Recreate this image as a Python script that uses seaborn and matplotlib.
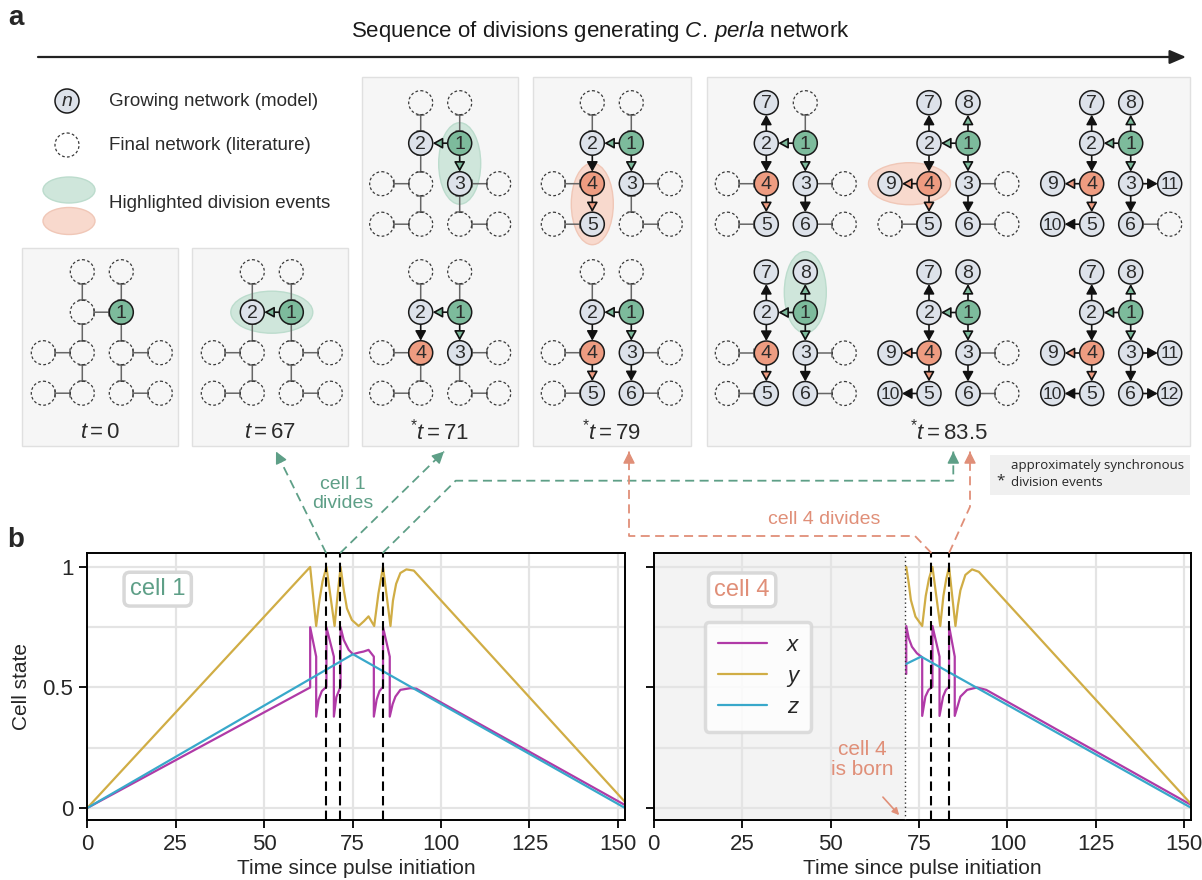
import matplotlib
matplotlib.use("Agg")
import matplotlib.pyplot as plt
import numpy as np
import pandas as pd
import seaborn as sns
from matplotlib.patches import Circle, Ellipse, Rectangle, FancyArrowPatch
from matplotlib.ticker import FixedLocator

# ------------------------------------------------------------------ data
series_names = ["x", "y", "z"]

# cell 1 traces (time, value)
cell1_x_t = [0, 63, 63, 64.7, 64.7, 65.4, 66.3, 67.6, 67.6, 69.7, 69.7, 70.4, 71.6, 71.6,
             72.5, 73.9, 75.1, 76.8, 78.1, 79.5, 81.0, 81.0, 81.8, 82.6, 83.6, 83.6, 85.5,
             85.5, 86.3, 87.1, 88.5, 91.3, 93.0, 152]
cell1_x = [0, 0.50, 0.75, 0.628, 0.379, 0.45, 0.485, 0.503, 0.75, 0.628, 0.379, 0.46, 0.503, 0.75,
           0.697, 0.656, 0.638, 0.645, 0.649, 0.656, 0.628, 0.379, 0.45, 0.485, 0.503, 0.75, 0.628,
           0.379, 0.43, 0.462, 0.49, 0.497, 0.495, 0.012]
cell1_y_t = [0, 63, 64.7, 65.6, 66.5, 67.6, 69.9, 70.8, 71.6, 72.5, 73.4, 74.8, 76.7, 78.2,
             79.5, 81.1, 82.3, 83.6, 85.7, 86.4, 87.3, 88.5, 90.2, 92.3, 152]
cell1_y = [0, 1.0, 0.755, 0.86, 0.94, 1.0, 0.755, 0.89, 1.0, 0.905, 0.828, 0.78, 0.755, 0.775,
           0.795, 0.755, 0.89, 1.0, 0.755, 0.86, 0.93, 0.975, 0.99, 0.985, 0.025]
cell1_z_t = [0, 75.1, 152]
cell1_z = [0, 0.638, 0.0]

# cell 4 traces (born at t = 71)
cell4_x_t = [71.4, 71.4, 72.1, 73.0, 74.4, 75.9, 75.9, 76.8, 77.7, 78.8, 78.8, 80.8, 80.8,
             81.8, 82.6, 83.5, 83.5, 85.1, 85.1, 86.7, 88.6, 91.4, 94.0, 152]
cell4_x = [0.556, 0.755, 0.704, 0.669, 0.642, 0.625, 0.382, 0.462, 0.49, 0.503, 0.755, 0.628, 0.382,
           0.462, 0.49, 0.503, 0.755, 0.628, 0.382, 0.462, 0.49, 0.50, 0.49, 0.012]
cell4_y_t = [71.4, 72.1, 72.7, 74.0, 75.9, 76.9, 77.8, 78.8, 81.0, 81.9, 82.7, 83.5, 85.3,
             86.0, 86.7, 88.1, 90.0, 91.9, 152]
cell4_y = [1.0, 0.932, 0.863, 0.794, 0.755, 0.88, 0.95, 1.0, 0.755, 0.88, 0.95, 1.0, 0.755,
           0.84, 0.903, 0.967, 0.99, 0.98, 0.015]
cell4_z_t = [71.4, 75.6, 152]
cell4_z = [0.598, 0.628, 0.0]

cell1_div_times = [67.5, 71.5, 83.5]
cell4_div_times = [78.5, 83.5]
cell4_birth_time = 71

x_ticks = [0, 25, 50, 75, 100, 125, 150]
y_ticks = [0, 0.5, 1]
y_tick_labels = ["0", "0.5", "1"]
y_minor_ticks = [0.25, 0.75]

snapshot_labels = [r"$t=0$", r"$t=67$", r"$^{*}t=71$", r"$^{*}t=79$", r"$^{*}t=83.5$"]
# number of cells in each drawn network
net_sizes = [1, 2, 3, 4, 5, 6, 7, 8, 9, 10, 11, 12]
# lineage (parent, daughter) in order of birth
lineage = [(1, 2), (1, 3), (2, 4), (4, 5), (3, 6), (2, 7), (1, 8), (4, 9), (5, 10), (3, 11), (6, 12)]
# slot (column, row) of each cell in the final network
cell_slot = {1: (2, 1), 2: (1, 1), 3: (2, 2), 4: (1, 2), 5: (1, 3), 6: (2, 3),
             7: (1, 0), 8: (2, 0), 9: (0, 2), 10: (0, 3), 11: (3, 2), 12: (3, 3)}

# ------------------------------------------------------------------ style
sns.set_style("ticks")
plt.rcParams["font.family"] = ["Liberation Sans", "DejaVu Sans"]
plt.rcParams["mathtext.fontset"] = "custom"
plt.rcParams["mathtext.rm"] = "Liberation Sans"
plt.rcParams["mathtext.it"] = "Liberation Sans:italic"
plt.rcParams["mathtext.bf"] = "Liberation Sans:bold"

PAL = {"x": "#b03aa7", "y": "#d0ad45", "z": "#38a8ca"}
GREEN = "#7dbb9c"
SALMON = "#ee9c81"
NODE_GRAY = "#dde2ea"
GREEN_TXT = "#5e9f87"
SALMON_TXT = "#e08f78"

W, H = 1202, 880
fig = plt.figure(figsize=(W / 100, H / 100), dpi=100)

ax1 = fig.add_axes([87.3 / W, 1 - 820 / H, 537.7 / W, 267 / H])
ax2 = fig.add_axes([653.7 / W, 1 - 820 / H, 537.7 / W, 267 / H])


def long_df(tx, x, ty, y, tz, z):
    return pd.concat([
        pd.DataFrame({"t": tx, "value": x, "var": "x"}),
        pd.DataFrame({"t": ty, "value": y, "var": "y"}),
        pd.DataFrame({"t": tz, "value": z, "var": "z"}),
    ], ignore_index=True)


def style_axes(ax, show_ylabels):
    ax.set_xlim(0, 152)
    ax.set_ylim(-0.05, 1.058)
    ax.set_xticks(x_ticks)
    ax.set_yticks(y_ticks)
    ax.set_yticklabels(y_tick_labels if show_ylabels else [])
    ax.yaxis.set_minor_locator(FixedLocator(y_minor_ticks))
    ax.set_axisbelow(True)
    ax.grid(True, which="major", color="#e4e4e4", lw=1.6)
    ax.grid(True, which="minor", axis="y", color="#e4e4e4", lw=1.6)
    ax.tick_params(which="major", direction="out", length=6, width=1.3, labelsize=16,
                   color="black", pad=4)
    ax.tick_params(which="minor", length=0)
    for s in ax.spines.values():
        s.set_linewidth(1.4)
        s.set_color("black")
    ax.set_xlabel("Time since pulse initiation", fontsize=15, labelpad=3)


df1 = long_df(cell1_x_t, cell1_x, cell1_y_t, cell1_y, cell1_z_t, cell1_z)
df4 = long_df(cell4_x_t, cell4_x, cell4_y_t, cell4_y, cell4_z_t, cell4_z)

sns.lineplot(data=df1, x="t", y="value", hue="var", hue_order=series_names, palette=PAL,
             sort=False, estimator=None, ax=ax1, linewidth=1.6, legend=False)
sns.lineplot(data=df4, x="t", y="value", hue="var", hue_order=series_names, palette=PAL,
             sort=False, estimator=None, ax=ax2, linewidth=1.6, legend=True)

style_axes(ax1, True)
style_axes(ax2, False)
ax1.set_ylabel("Cell state", fontsize=15, labelpad=8)
ax2.set_ylabel("")

for t in cell1_div_times:
    ax1.axvline(t, color="black", lw=1.5, ls=(0, (4.5, 2.5)), zorder=4)
for t in cell4_div_times:
    ax2.axvline(t, color="black", lw=1.5, ls=(0, (4.5, 2.5)), zorder=4)

ax2.axvspan(0, cell4_birth_time, color="#f3f3f3", zorder=0.2, lw=0)
ax2.axvline(cell4_birth_time, color="#333333", lw=1.0, ls=(0, (1, 2)), zorder=3)

box = dict(boxstyle="round,pad=0.25", fc="white", ec="#d8d8d8", lw=2.5)
ax1.text(19.9, 0.908, "cell 1", color=GREEN_TXT, fontsize=17, ha="center", va="center", bbox=box)
ax2.text(25, 0.905, "cell 4", color=SALMON_TXT, fontsize=17, ha="center", va="center", bbox=box)

handles, labels = ax2.get_legend_handles_labels()
leg = ax2.legend(handles, labels, loc="upper left", bbox_to_anchor=(0.095, 0.742),
                 borderaxespad=0, frameon=True, fancybox=True, handlelength=2.2,
                 handletextpad=0.9, labelspacing=0.45, borderpad=0.6,
                 prop={"style": "italic", "size": 16})
leg.get_frame().set_edgecolor("#d5d5d5")
leg.get_frame().set_linewidth(2.5)
for h in leg.legend_handles:
    h.set_linewidth(1.6)

ax2.text(59, 0.2, "cell 4\nis born", color=SALMON_TXT, fontsize=15, ha="center", va="center",
         linespacing=1.05)
ax2.annotate("", xy=(69.4, -0.03), xytext=(64.8, 0.045),
             arrowprops=dict(arrowstyle="-|>", color=SALMON_TXT, lw=1.2, mutation_scale=10,
                             shrinkA=0, shrinkB=0))

# ------------------------------------------------------------------ overlay (panel a)
ov = fig.add_axes([0, 0, 1, 1], zorder=5)
ov.set_xlim(0, W)
ov.set_ylim(H, 0)
ov.axis("off")

R = 12.0
PT = 72 / 100.0
DX, DY = 39.0, 40.5


def node(cx, cy, label=None, fc=NODE_GRAY, dashed=False, italic=False):
    if dashed:
        ov.add_patch(Circle((cx, cy), R, fill=False, ec="#3a3a3a", lw=0.9,
                            ls=(0, (2.2, 1.8)), zorder=3))
    else:
        ov.add_patch(Circle((cx, cy), R, fc=fc, ec="#1a1a1a", lw=1.1, zorder=3))
        fs = 14 if len(label) == 1 else 12.5
        ov.text(cx, cy + 1, label, ha="center", va="center", fontsize=fs, color="#2b2b2b",
                style="italic" if italic else "normal", zorder=4)


def edge(p1, p2, arrow=False, head="k"):
    if arrow:
        ov.add_patch(FancyArrowPatch(p1, p2, arrowstyle="-|>,head_length=0.45,head_width=0.25",
                                     mutation_scale=13, shrinkA=R * PT, shrinkB=R * PT,
                                     fc=head, ec="#111111", lw=1.2, zorder=2))
    else:
        ov.add_patch(FancyArrowPatch(p1, p2, arrowstyle="|-|,widthA=0.22,widthB=0.22",
                                     mutation_scale=12, shrinkA=R * PT, shrinkB=R * PT,
                                     color="#666666", lw=1.1, zorder=2))


def cell_color(c):
    return GREEN if c == 1 else (SALMON if c == 4 else NODE_GRAY)


def head_color(c):
    return GREEN if c == 1 else (SALMON if c == 4 else "#111111")


def pos(x0, y0, c):
    col, row = cell_slot[c]
    return (x0 + col * DX, y0 + row * DY)


def highlight(x0, y0, a, b, kind):
    pa, pb = pos(x0, y0, a), pos(x0, y0, b)
    cx, cy = (pa[0] + pb[0]) / 2, (pa[1] + pb[1]) / 2
    if abs(pa[1] - pb[1]) < 1:
        w, h = abs(pa[0] - pb[0]) + 43, 42
    else:
        w, h = 42, abs(pa[1] - pb[1]) + 41
    fc, ec = ("#cfe6db", "#bcdccd") if kind == "g" else ("#f8d9cd", "#f0c7b7")
    ov.add_patch(Ellipse((cx, cy), w, h, fc=fc, ec=ec, lw=1.0, zorder=1))


def network(x0, y0, n, hl=None):
    if hl is not None:
        highlight(x0, y0, *hl)
    for p, c in lineage:
        p1, p2 = pos(x0, y0, p), pos(x0, y0, c)
        if c <= n:
            edge(p1, p2, arrow=True, head=head_color(p))
        else:
            edge(p1, p2)
    for c in cell_slot:
        cx, cy = pos(x0, y0, c)
        if c <= n:
            node(cx, cy, str(c), fc=cell_color(c))
        else:
            node(cx, cy, dashed=True)


# panel boxes
panel_boxes = [(22, 248, 178, 446), (192, 248, 348, 446), (362, 77, 518, 446),
               (533, 77, 691, 446), (707, 77, 1190, 446)]
for (xa, ya, xb, yb), lab in zip(panel_boxes, snapshot_labels):
    ov.add_patch(Rectangle((xa, ya), xb - xa, yb - ya, fc="#f6f6f6", ec="#e0e0e0", lw=1.0, zorder=0))
    ov.text((xa + xb) / 2, 432, lab, ha="center", va="center", fontsize=16, color="#2b2b2b", zorder=4)

net_origins = [(43.3, 271.7), (213.3, 271.7), (381.7, 102.7), (381.7, 271.7),
               (553.3, 102.7), (553.3, 271.7), (727.3, 102.7), (727.3, 272.0),
               (890.0, 102.7), (890.0, 272.0), (1052.7, 102.7), (1052.7, 272.0)]
net_highlights = [None, (1, 2, "g"), (1, 3, "g"), None, (4, 5, "s"), None,
                  None, (1, 8, "g"), (4, 9, "s"), None, None, None]
for (x0, y0), n, hl in zip(net_origins, net_sizes, net_highlights):
    network(x0, y0, n, hl)

# legend of panel a
node(67, 101, "n", italic=True)
node(67, 145, dashed=True)
ov.add_patch(Ellipse((69, 190), 52, 26, fc="#cfe6db", ec="#bcdccd", lw=1.0, zorder=1))
ov.add_patch(Ellipse((69, 221), 52, 27, fc="#f8d9cd", ec="#f0c7b7", lw=1.0, zorder=1))
ov.text(109, 101, "Growing network (model)", fontsize=13.5, va="center", color="#2b2b2b")
ov.text(109, 145, "Final network (literature)", fontsize=13.5, va="center", color="#2b2b2b")
ov.text(109, 203, "Highlighted division events", fontsize=13.5, va="center", color="#2b2b2b")

# title + arrow
ov.text(600, 32, r"Sequence of divisions generating $\mathit{C.\,perla}$ network",
        fontsize=16, ha="center", va="center", color="#1a1a1a")
ov.annotate("", xy=(1186, 57), xytext=(38, 57),
            arrowprops=dict(arrowstyle="-|>,head_length=0.7,head_width=0.3", color="#222222",
                            lw=1.6, mutation_scale=14, shrinkA=0, shrinkB=0))
ov.text(16, 18, "a", fontsize=20, fontweight="bold", ha="center", va="center")
ov.text(16, 540, "b", fontsize=20, fontweight="bold", ha="center", va="center")

# note box
ov.add_patch(Rectangle((990, 455), 200, 40, fc="#f0f0f0", ec="none", zorder=0))
ov.text(1001, 481, "*", fontsize=11, ha="center", va="center", family="Open Sans")
ov.text(1011, 465, "approximately synchronous", fontsize=9.5, va="center", family="Open Sans")
ov.text(1011, 483, "division events", fontsize=9.5, va="center", family="Open Sans")


# connectors from the division lines to the panels
def to_ov(ax, t):
    disp = ax.transData.transform((t, ax.get_ylim()[1]))
    return tuple(ov.transData.inverted().transform(disp))


def connector(points, color):
    xs = [p[0] for p in points]
    ys = [p[1] for p in points]
    ov.plot(xs, ys, color=color, lw=1.3, ls=(0, (5, 3)), zorder=6)
    tip, prev = points[-1], points[-2]
    d = np.array(prev) - np.array(tip)
    d = d / np.hypot(*d)
    ov.annotate("", xy=tip, xytext=(tip[0] + 6 * d[0], tip[1] + 6 * d[1]),
                arrowprops=dict(arrowstyle="-|>,head_length=0.6,head_width=0.3", color=color,
                                lw=1.0, mutation_scale=12, shrinkA=0, shrinkB=0), zorder=6)


GLINE = "#5e9f87"
SLINE = "#e08f78"
connector([to_ov(ax1, cell1_div_times[0]), (276, 451.5)], GLINE)
connector([to_ov(ax1, cell1_div_times[1]), (444, 451.5)], GLINE)
connector([to_ov(ax1, cell1_div_times[2]), (455.7, 480.7), (953.3, 480.7), (953.3, 451.5)], GLINE)
connector([to_ov(ax2, cell4_div_times[0]), (915, 536), (629, 536), (629, 451.5)], SLINE)
connector([to_ov(ax2, cell4_div_times[1]), (970, 506.7), (970, 451.5)], SLINE)

ov.text(343, 494, "cell 1\ndivides", color=GREEN_TXT, fontsize=14, ha="center", va="center",
        linespacing=1.1)
ov.text(824, 519, "cell 4 divides", color=SALMON_TXT, fontsize=14, ha="center", va="center")

fig.savefig("out.png", dpi=100)
